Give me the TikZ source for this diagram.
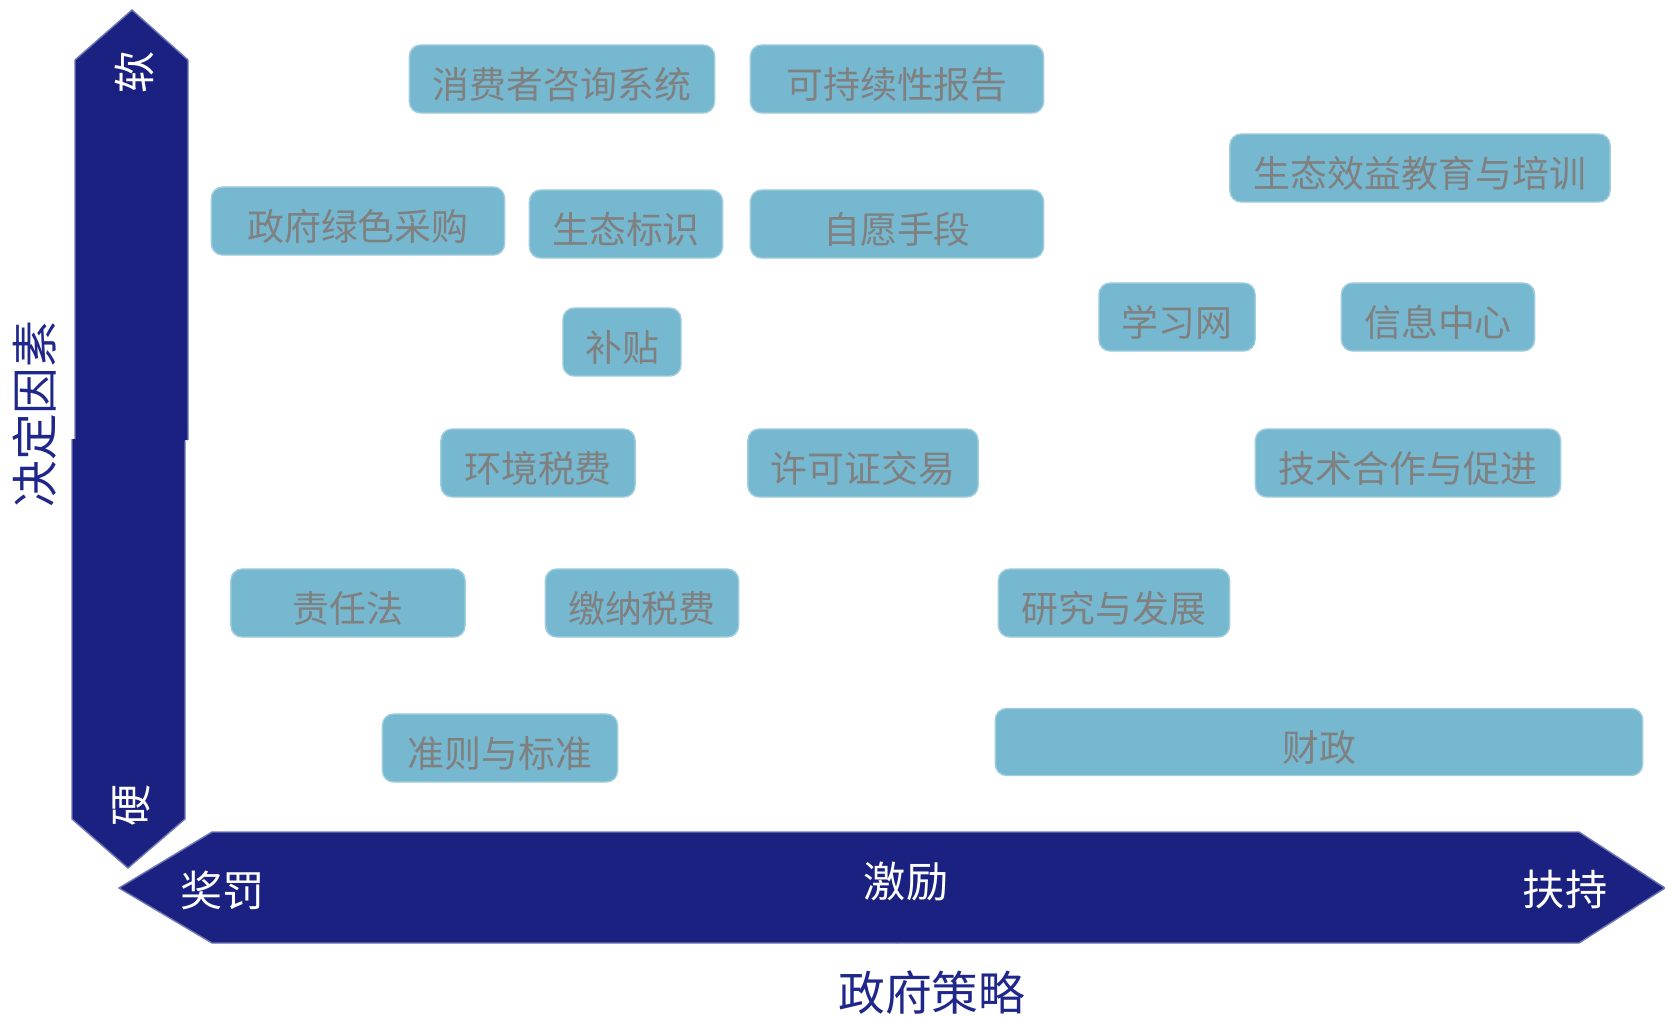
\documentclass[tikz,border=0pt]{standalone}
\usepackage{fontspec}
\setmainfont{Noto Sans CJK SC}
\usepackage{xcolor}
\usepackage{tikz}
\usetikzlibrary{positioning}

\definecolor{navy}{RGB}{27,33,128}
\definecolor{navyedge}{RGB}{110,118,180}
\definecolor{boxblue}{RGB}{118,184,207}
\definecolor{boxtext}{RGB}{128,128,128}
\definecolor{axistext}{RGB}{31,40,138}

\begin{document}
\begin{tikzpicture}[
  x=0.01cm,y=-0.01cm,
  tool/.style={draw=boxblue!70!white,line width=0.4pt,fill=boxblue,rounded corners=3.2pt,
    minimum height=0.68cm,inner sep=0pt,text height=0.42cm,text depth=0.04cm,
    text=boxtext,font=\fontsize{10.5}{12}\selectfont},
  band/.style={fill=navy},
  rim/.style={draw=navyedge,line width=0.4pt},
  pole/.style={text=white,font=\fontsize{12}{14}\selectfont},
  axis/.style={text=axistext,font=\fontsize{13.3}{15}\selectfont}
]
\useasboundingbox (0,0) rectangle (1665,1017);

% vertical axis, two halves
\path[band] (75,440) -- (75,60) -- (132,10) -- (188,60) -- (188,440) -- cycle;
\path[band] (72,439) -- (185,439) -- (185,819) -- (128,868) -- (72,819) -- cycle;
\draw[rim] (75,439) -- (75,60) -- (132,10) -- (188,60) -- (188,440);
\draw[rim] (72,439) -- (72,819) -- (128,868) -- (185,819) -- (185,441);
% horizontal axis, two halves
\path[band] (898,832) -- (212,832) -- (119,888) -- (212,943) -- (898,943) -- cycle;
\path[band] (896,832) -- (1579,832) -- (1665,888) -- (1579,943) -- (896,943) -- cycle;
\draw[rim] (897,832) -- (212,832) -- (119,888) -- (212,943) -- (897,943);
\draw[rim] (897,832) -- (1579,832) -- (1665,888) -- (1579,943) -- (897,943);

\node[pole,rotate=90] (soft) at (134,72) {软};
\node[pole,rotate=90] (hard) at (131,805) {硬};
\node[pole] (punish) at (223,890) {奖罚};
\node[pole] (incent) at (906,882) {激励};
\node[pole] (support) at (1565,890) {扶持};
\node[axis,rotate=90] (factor) at (35,414) {决定因素};
\node[axis] (policy) at (932,993) {政府策略};

% policy tools
\node[tool,minimum width=3.05cm] (consult) at (562,79) {消费者咨询系统};
\node[tool,minimum width=2.93cm] (report) at (897,79) {可持续性报告};
\node[tool,minimum width=3.80cm] (educ) at (1420,168) {生态效益教育与培训};
\node[tool,minimum width=2.93cm] (procure) at (358,221) {政府绿色采购};
\node[tool,minimum width=1.93cm] (label) at (626,224) {生态标识};
\node[tool,minimum width=2.93cm] (volunt) at (897,224) {自愿手段};
\node[tool,minimum width=1.56cm] (learn) at (1177,317) {学习网};
\node[tool,minimum width=1.93cm] (info) at (1438,317) {信息中心};
\node[tool,minimum width=1.18cm] (subsidy) at (622,342) {补贴};
\node[tool,minimum width=1.94cm] (envtax) at (538,463) {环境税费};
\node[tool,minimum width=2.30cm] (permit) at (863,463) {许可证交易};
\node[tool,minimum width=3.05cm] (techco) at (1408,463) {技术合作与促进};
\node[tool,minimum width=2.34cm] (liab) at (348,603) {责任法};
\node[tool,minimum width=1.93cm] (paytax) at (642,603) {缴纳税费};
\node[tool,minimum width=2.31cm] (rnd) at (1114,603) {研究与发展};
\node[tool,minimum width=2.35cm] (norms) at (500,748) {准则与标准};
\node[tool,minimum width=6.47cm,minimum height=0.67cm] (fiscal) at (1319,742) {财政};
\end{tikzpicture}
\end{document}
